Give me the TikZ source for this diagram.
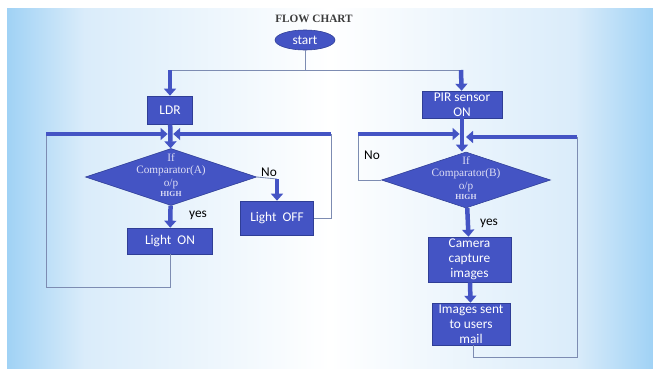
\documentclass[tikz,border=0pt]{standalone}
\usepackage{fontspec}
\setmainfont{Carlito}
\newfontfamily\chartserif{Liberation Serif}
\usetikzlibrary{positioning}
\usetikzlibrary{arrows.meta}
\usetikzlibrary{shapes.geometric}
\definecolor{boxblue}{RGB}{68,84,196}
\definecolor{boxedge}{RGB}{47,62,150}
\definecolor{linegray}{RGB}{125,140,178}
\definecolor{bgblue}{RGB}{160,210,245}
\definecolor{bglight}{RGB}{218,236,250}
\definecolor{lavender}{RGB}{222,222,245}
\definecolor{titlegray}{RGB}{60,60,60}
\pgfdeclarehorizontalshading{slide}{100bp}{color(0bp)=(bgblue); color(25bp)=(bgblue);
  color(31bp)=(bglight); color(50bp)=(white); color(69bp)=(bglight); color(75bp)=(bgblue); color(100bp)=(bgblue)}

\begin{document}
\begin{tikzpicture}[x=0.025cm,y=-0.025cm]
\tikzset{
  title/.style={text=titlegray,font=\chartserif\bfseries\fontsize{8}{9}\selectfont},
  terminal/.style={ellipse,draw=boxedge,fill=boxblue,text=white,font=\fontsize{9.5}{10}\selectfont,inner sep=0pt,minimum width=1.5cm,minimum height=0.5cm},
  process/.style={rectangle,draw=boxedge,fill=boxblue,text=white,align=center,font=\fontsize{9.5}{10.8}\selectfont,inner sep=0pt},
  decision/.style={diamond,draw=boxedge,fill=boxblue,inner sep=0pt},
  decisiontext/.style={text=lavender,align=center,yshift=0.05cm,font=\chartserif\fontsize{8}{9.1}\selectfont},
  answer/.style={text=black,font=\fontsize{9.5}{10}\selectfont},
  bigarrow/.style={-{Triangle[width=8.5pt,length=5pt]},line width=3.2pt,draw=boxblue},
  link/.style={draw=linegray,line width=0.6pt},
}
\useasboundingbox (0,0) rectangle (653,369);
\shade[shading=slide] (7,8) rectangle (653,369);
%
\node[title] (heading) at (314,19) {FLOW CHART};
\node[terminal] (start) at (305,40) {start};
%
\coordinate (split) at (305,70);
\coordinate (splitA) at (170,70);
\coordinate (splitB) at (461,70);
\node[process,minimum width=1.125cm,minimum height=0.7cm] (ldr) at (170,110) {LDR};
\node[process,minimum width=2cm,minimum height=0.675cm] (pir) at (462,104.5) {PIR sensor\\ON};
%
\node[decision,minimum width=4.275cm,minimum height=1.425cm,
  label={[decisiontext]center:{If\\Comparator(A)\\o/p\\[-2pt]{\bfseries\fontsize{5.5}{6}\selectfont HIGH}}}] (cmpA) at (171,177) {};
\node[process,minimum width=2.125cm,minimum height=0.65cm] (lighton) at (170,241) {Light\ \ ON};
\node[process,minimum width=1.825cm,minimum height=0.85cm] (lightoff) at (277,218) {Light\ \ OFF};
\coordinate (inAl) at (46,134);
\coordinate (inAr) at (331,134);
\coordinate (loopA) at (46,287);
\coordinate (noA) at (277,179);
%
\node[decision,minimum width=4.225cm,minimum height=1.4cm,
  label={[decisiontext]center:{If\\Comparator(B)\\o/p\\[-2pt]{\bfseries\fontsize{5.5}{6}\selectfont HIGH}}}] (cmpB) at (466,180) {};
\node[process,minimum width=2.075cm,minimum height=1.125cm] (camera) at (469.5,259.5) {Camera\\capture\\images};
\node[process,minimum width=1.95cm,minimum height=1.05cm] (mail) at (471,324) {Images sent\\to users\\mail};
\coordinate (inBl) at (358,134);
\coordinate (inBr) at (577,137);
\coordinate (loopB) at (577,357);
%
\node[answer] (yesA) at (198,215) {yes};
\node[answer] (noAtext) at (269,172) {No};
\node[answer] (noBtext) at (372,155) {No};
\node[answer] (yesB) at (489,223) {yes};
%
\path[link] (start) -- (split);
\path[link] (splitA) -- (splitB);
\path[link] (lighton.south) -- (lighton.south |- loopA) -| (inAl);
\path[link] (lightoff.east) -| (inAr);
\path[link] (cmpA.east) -- (noA);
\path[link] (cmpB.west) -| (inBl);
\path[link] ([xshift=0.05cm]mail.south) -- ([xshift=0.05cm]mail.south |- loopB) -| (inBr);
%
\path[bigarrow] (splitA) -- (ldr);
\path[bigarrow] (splitB) -- (pir);
\path[bigarrow] (ldr) -- (cmpA);
\path[bigarrow] (inAl) -- ([xshift=-0.06cm]ldr.south |- inAl);
\path[bigarrow] (inAr) -- ([xshift=0.08cm]ldr.south |- inAr);
\path[bigarrow] (cmpA) -- (lighton);
\path[bigarrow] (noA) -- (lightoff);
\path[bigarrow] (pir) -- (pir.south |- cmpB.north);
\path[bigarrow] (inBl) -- ([xshift=-0.06cm]pir.south |- inBl);
\path[bigarrow] (inBr) -- ([xshift=0.1cm]pir.south |- inBr);
\path[bigarrow] (cmpB) -- (camera);
\path[bigarrow] (camera) -- (mail);
\end{tikzpicture}
\end{document}
